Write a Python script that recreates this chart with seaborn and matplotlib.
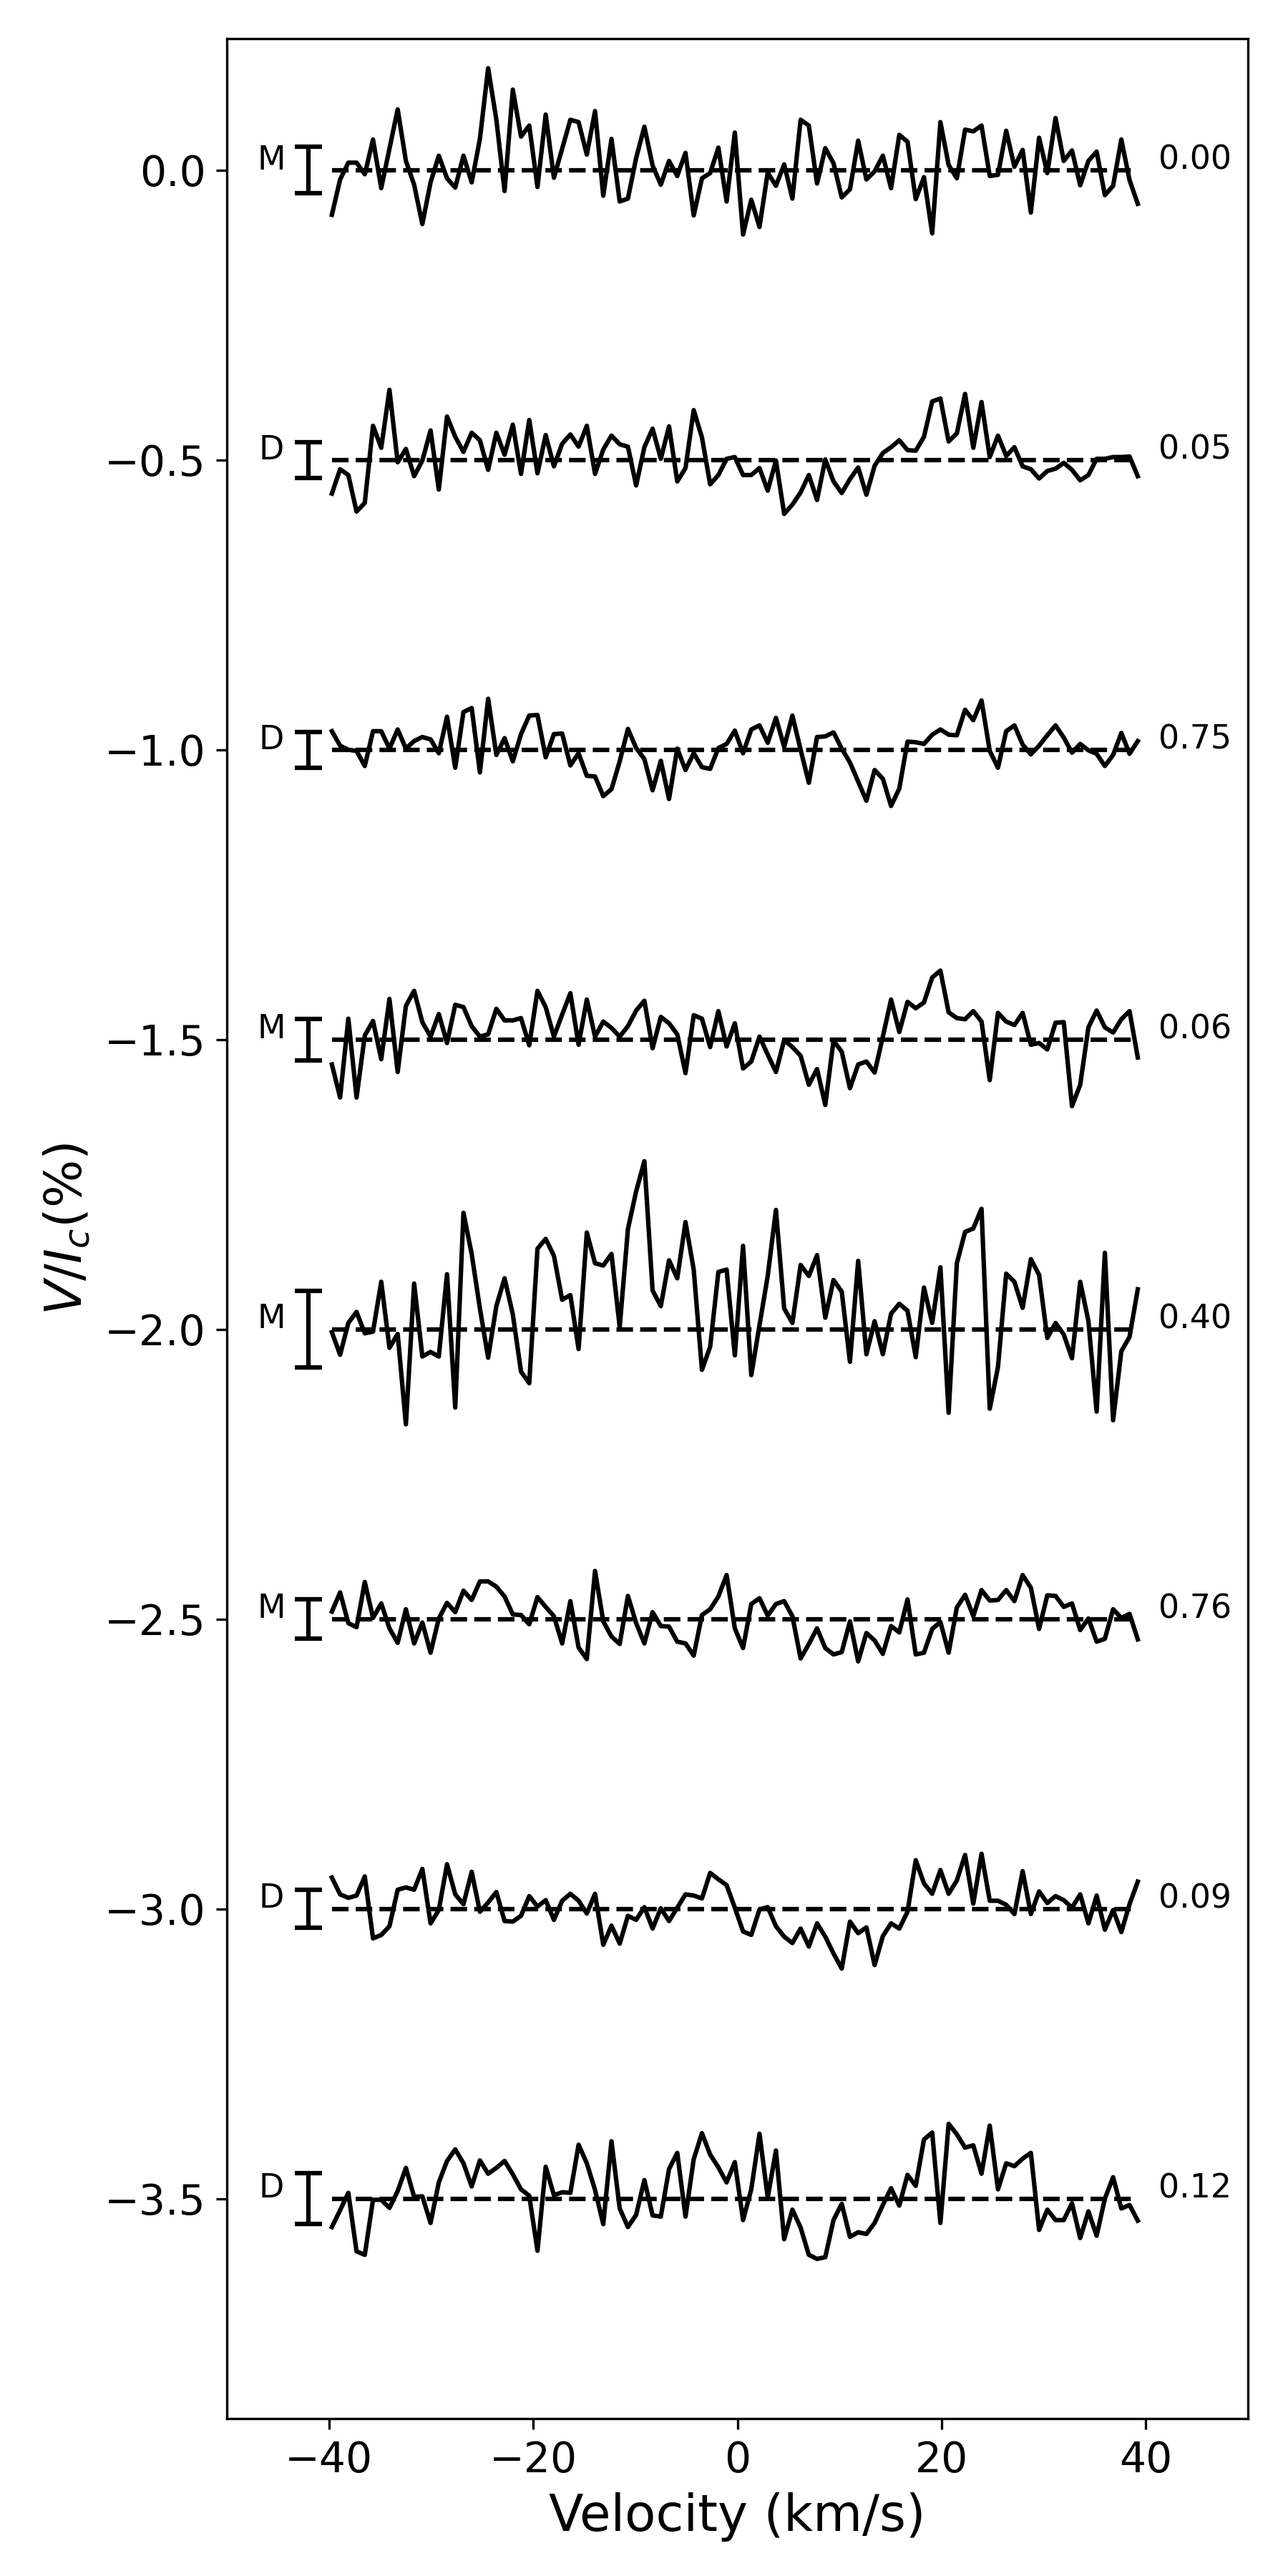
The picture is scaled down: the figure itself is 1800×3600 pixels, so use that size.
import numpy as np
import matplotlib
matplotlib.use("Agg")
import matplotlib.pyplot as plt
import seaborn as sns

# ---- data (Stokes V / Ic in %, relative to each profile's offset) ----
offsets = [0.0, -0.5, -1.0, -1.5, -2.0, -2.5, -3.0, -3.5]
types = ["M", "D", "D", "M", "M", "M", "D", "D"]
phases = ["0.00", "0.05", "0.75", "0.06", "0.40", "0.76", "0.09", "0.12"]
err_half = [0.040, 0.031, 0.031, 0.036, 0.066, 0.034, 0.033, 0.044]
v_start, v_end = -39.7, 39.2

prof1 = [-0.077, -0.016, 0.013, 0.013, -0.007, 0.053, -0.031, 0.037, 0.105, 0.016,
         -0.025, -0.093, -0.021, 0.025, -0.014, -0.030, 0.025, -0.021, 0.054, 0.176,
         0.087, -0.036, 0.139, 0.058, 0.077, -0.029, 0.096, -0.013, 0.037, 0.087,
         0.083, 0.027, 0.102, -0.044, 0.054, -0.054, -0.049, 0.021, 0.075, 0.008,
         -0.025, 0.016, -0.010, 0.030, -0.078, -0.014, -0.005, 0.039, -0.054, 0.065,
         -0.111, -0.051, -0.098, -0.004, -0.027, 0.010, -0.049, 0.087, 0.077, -0.023,
         0.038, 0.012, -0.047, -0.033, 0.051, -0.016, -0.002, 0.025, -0.031, 0.061,
         0.049, -0.050, -0.012, -0.109, 0.083, 0.009, -0.014, 0.070, 0.067, 0.077,
         -0.010, -0.008, 0.068, 0.006, 0.035, -0.073, 0.056, -0.005, 0.090, 0.016,
         0.034, -0.026, 0.016, 0.032, -0.043, -0.027, 0.053, -0.017, -0.058]

prof2 = [-0.058, -0.016, -0.026, -0.089, -0.074, 0.059, 0.021, 0.121, -0.004, 0.019,
         -0.028, -0.001, 0.051, -0.051, 0.075, 0.040, 0.014, 0.047, 0.034, -0.017,
         0.047, 0.009, 0.061, -0.024, 0.069, -0.023, 0.043, -0.011, 0.028, 0.044,
         0.023, 0.059, -0.024, 0.018, 0.042, 0.027, 0.023, -0.044, 0.022, 0.054,
         0.002, 0.058, -0.037, -0.014, 0.086, 0.039, -0.042, -0.026, 0.002, 0.005,
         -0.026, -0.026, -0.014, -0.053, -0.001, -0.093, -0.077, -0.056, -0.026, -0.069,
         0.001, -0.037, -0.057, -0.033, -0.013, -0.060, -0.010, 0.012, 0.022, 0.034,
         0.017, 0.016, 0.040, 0.101, 0.106, 0.032, 0.046, 0.114, 0.021, 0.100,
         0.005, 0.042, 0.007, 0.022, -0.011, -0.016, -0.032, -0.019, -0.015, -0.005,
         -0.017, -0.035, -0.026, 0.002, 0.002, 0.005, 0.005, 0.006, -0.028]

prof3 = [0.032, 0.007, 0.000, -0.002, -0.028, 0.032, 0.032, 0.002, 0.035, 0.002,
         0.015, 0.022, 0.018, -0.006, 0.057, -0.031, 0.065, 0.072, -0.039, 0.088,
         -0.009, 0.020, -0.020, 0.027, 0.059, 0.060, -0.013, 0.027, 0.028, -0.027,
         -0.006, -0.045, -0.046, -0.080, -0.068, -0.020, 0.036, 0.003, -0.016, -0.070,
         -0.019, -0.085, 0.002, -0.035, -0.006, -0.030, -0.033, 0.003, 0.010, 0.033,
         -0.006, 0.035, 0.042, 0.012, 0.055, 0.005, 0.059, 0.000, -0.057, 0.022,
         0.023, 0.030, 0.002, -0.022, -0.055, -0.088, -0.035, -0.050, -0.097, -0.067,
         0.014, 0.013, 0.010, 0.026, 0.035, 0.026, 0.025, 0.069, 0.051, 0.085,
         -0.002, -0.031, 0.032, 0.042, 0.009, -0.008, 0.007, 0.025, 0.042, 0.021,
         -0.005, 0.010, -0.001, -0.007, -0.028, -0.009, 0.029, -0.007, 0.015]

prof4 = [-0.043, -0.100, 0.036, -0.100, 0.007, 0.032, -0.034, 0.070, -0.056, 0.058,
         0.084, 0.030, 0.005, 0.044, -0.006, 0.060, 0.056, 0.023, 0.005, 0.009,
         0.053, 0.033, 0.033, 0.037, -0.010, 0.084, 0.056, 0.005, 0.043, 0.080,
         -0.009, 0.069, 0.005, 0.031, 0.020, 0.005, 0.023, 0.050, 0.067, -0.015,
         0.039, 0.028, 0.009, -0.058, 0.042, 0.036, -0.013, 0.049, -0.012, 0.028,
         -0.050, -0.038, 0.005, -0.026, -0.056, -0.001, -0.013, -0.028, -0.078, -0.051,
         -0.113, -0.002, -0.021, -0.084, -0.043, -0.038, -0.057, 0.005, 0.069, 0.013,
         0.065, 0.054, 0.064, 0.107, 0.119, 0.047, 0.037, 0.035, 0.049, 0.031,
         -0.070, 0.046, 0.031, 0.025, 0.046, -0.009, -0.006, -0.017, 0.029, 0.030,
         -0.115, -0.078, 0.021, 0.050, 0.021, 0.012, 0.035, 0.049, -0.031]

prof5 = [-0.005, -0.044, 0.011, 0.030, -0.007, -0.004, 0.082, -0.032, -0.008, -0.164,
         0.079, -0.047, -0.039, -0.047, 0.095, -0.135, 0.201, 0.130, 0.036, -0.049,
         0.040, 0.088, 0.026, -0.073, -0.093, 0.139, 0.156, 0.127, 0.051, 0.059,
         -0.034, 0.167, 0.114, 0.110, 0.130, 0.004, 0.173, 0.238, 0.290, 0.067,
         0.040, 0.119, 0.088, 0.185, 0.103, -0.070, -0.030, 0.099, 0.103, -0.045,
         0.144, -0.079, 0.007, 0.092, 0.206, 0.036, 0.011, 0.111, 0.092, 0.128,
         0.020, 0.085, 0.065, -0.056, 0.118, -0.043, 0.014, -0.043, 0.027, 0.044,
         0.032, -0.048, 0.072, 0.011, 0.107, -0.144, 0.114, 0.168, 0.174, 0.208,
         -0.137, -0.065, 0.096, 0.082, 0.037, 0.121, 0.094, -0.015, 0.011, -0.009,
         -0.050, 0.082, 0.014, -0.142, 0.132, -0.157, -0.038, -0.013, 0.069]

prof6 = [0.013, 0.046, -0.007, -0.014, 0.064, 0.002, 0.027, -0.016, -0.041, 0.017,
         -0.042, -0.006, -0.058, 0.001, 0.028, 0.012, 0.049, 0.033, 0.065, 0.065,
         0.056, 0.039, 0.008, 0.007, -0.009, 0.038, 0.021, 0.005, -0.042, 0.031,
         -0.049, -0.069, 0.083, -0.004, -0.030, -0.043, 0.040, -0.007, -0.042, 0.012,
         -0.012, -0.013, -0.039, -0.042, -0.063, 0.007, 0.017, 0.039, 0.076, -0.016,
         -0.050, 0.026, 0.036, 0.006, 0.026, 0.031, 0.005, -0.068, -0.043, -0.016,
         -0.050, -0.061, -0.057, -0.004, -0.073, -0.024, -0.037, -0.060, -0.012, -0.023,
         0.034, -0.061, -0.058, -0.017, -0.005, -0.058, 0.020, 0.042, 0.005, 0.050,
         0.032, 0.033, 0.050, 0.031, 0.076, 0.054, -0.017, 0.041, 0.040, 0.021,
         0.027, -0.019, 0.001, -0.039, -0.034, 0.017, 0.002, 0.009, -0.035]

prof7 = [0.054, 0.025, 0.019, 0.023, 0.056, -0.051, -0.045, -0.030, 0.033, 0.037,
         0.033, 0.069, -0.025, -0.002, 0.077, 0.025, 0.008, 0.064, -0.005, 0.011,
         0.029, -0.021, -0.022, -0.012, 0.022, 0.004, 0.015, -0.019, 0.014, 0.026,
         0.014, -0.008, 0.026, -0.062, -0.029, -0.060, -0.012, -0.019, 0.003, -0.034,
         0.001, -0.021, 0.002, 0.025, 0.023, 0.018, 0.062, 0.051, 0.041, 0.002,
         -0.039, -0.045, -0.001, 0.003, -0.030, -0.048, -0.059, -0.034, -0.065, -0.025,
         -0.048, -0.077, -0.103, -0.022, -0.042, -0.032, -0.097, -0.047, -0.025, -0.034,
         -0.005, 0.084, 0.044, 0.026, 0.067, 0.026, 0.049, 0.093, 0.009, 0.095,
         0.014, 0.014, 0.007, -0.009, 0.065, -0.009, 0.030, 0.010, 0.022, 0.015,
         0.002, 0.025, -0.025, 0.023, -0.036, -0.002, -0.040, 0.008, 0.047]

prof8 = [-0.049, -0.020, 0.010, -0.091, -0.097, -0.002, -0.002, -0.016, 0.013, 0.053,
         0.003, 0.004, -0.042, 0.028, 0.065, 0.085, 0.061, 0.021, 0.066, 0.043,
         0.053, 0.065, 0.042, 0.016, 0.005, -0.090, 0.055, 0.006, 0.011, 0.010,
         0.093, 0.061, 0.015, -0.044, 0.099, -0.017, -0.049, -0.028, 0.032, -0.029,
         -0.031, 0.051, 0.079, -0.031, 0.068, 0.113, 0.076, 0.054, 0.028, 0.063,
         -0.037, 0.016, 0.112, 0.002, 0.083, -0.070, -0.019, -0.050, -0.097, -0.104,
         -0.101, -0.037, -0.009, -0.066, -0.058, -0.061, -0.042, -0.011, 0.018, -0.012,
         0.041, 0.022, 0.102, 0.114, -0.042, 0.129, 0.111, 0.088, 0.092, 0.043,
         0.126, 0.016, 0.061, 0.056, 0.069, 0.079, -0.054, -0.019, -0.037, -0.037,
         -0.008, -0.068, -0.022, -0.064, 0.000, 0.037, -0.017, -0.011, -0.038]

profiles = [prof1, prof2, prof3, prof4, prof5, prof6, prof7, prof8]

# ---- plot ----
fig, ax = plt.subplots(figsize=(6, 12), dpi=300)

for prof, off, typ, ph, eh in zip(profiles, offsets, types, phases, err_half):
    vel = np.linspace(v_start, v_end, len(prof))
    sns.lineplot(x=vel, y=np.array(prof) + off, color="black", linewidth=1.5,
                 estimator=None, sort=False, ax=ax)
    ax.plot([vel[0], vel[-1]], [off, off], color="black", linestyle="--", linewidth=1.5)
    ax.errorbar([-42.0], [off], yerr=[eh], color="black", capsize=4.5,
                elinewidth=1.5, capthick=1.5)
    ax.text(-45.6, off + 0.017, typ, ha="center", va="center", fontsize=11)
    ax.text(41.2, off + 0.017, ph, ha="left", va="center", fontsize=11)

ax.set_xlim(-50, 50)
ax.set_ylim(-3.88, 0.227)
ax.set_xticks([-40, -20, 0, 20, 40])
ax.set_yticks(offsets)
ax.tick_params(labelsize=14)
ax.set_xlabel("Velocity (km/s)", fontsize=17)
ax.set_ylabel(r"$V/I_c(\%)$", fontsize=17)

fig.subplots_adjust(left=0.176, right=0.969, top=0.985, bottom=0.061)
fig.savefig("out.png", dpi=300)
